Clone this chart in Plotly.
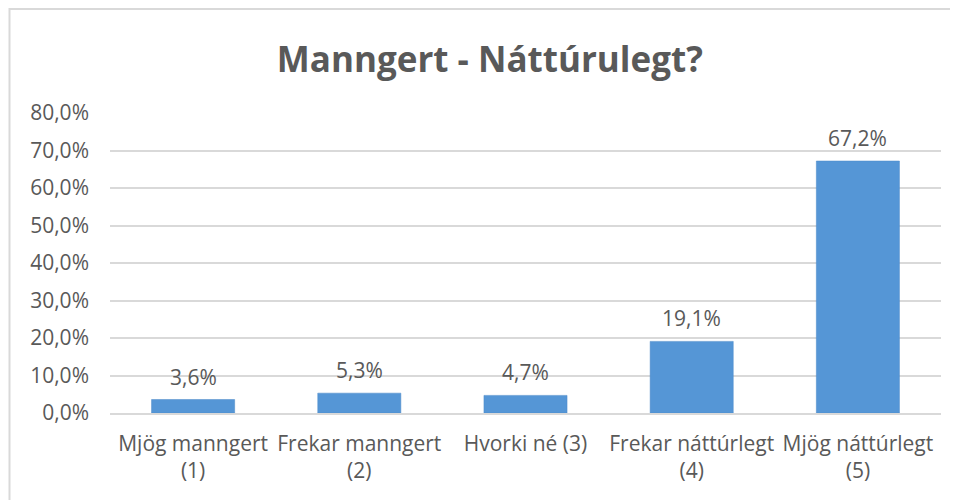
import plotly.graph_objects as go

categories = ["Mjög manngert<br>(1)", "Frekar manngert<br>(2)", "Hvorki né (3)",
              "Frekar náttúrlegt<br>(4)", "Mjög náttúrlegt<br>(5)"]
values = [3.6, 5.3, 4.7, 19.1, 67.2]
tick_values = [0, 10, 20, 30, 40, 50, 60, 70, 80]

FONT = "Open Sans"
GRAY = "#595959"

# Page has an 8px body margin; lay the figure out so the visible result matches.
L, R, T, B = 102, 25, 105, 95
PW = 958 - L - R
PH = 500 - T - B

fig = go.Figure(go.Bar(
    x=categories,
    y=values,
    marker=dict(color="#5596D6", line=dict(color="#4A89C8", width=0.5)),
))

for c, v in zip(categories, values):
    fig.add_annotation(x=c, y=v, text=f"{v:.1f}%".replace(".", ","), showarrow=False,
                       yanchor="bottom", yshift=7,
                       font=dict(family=FONT, size=21, color=GRAY))

fig.update_layout(
    width=958, height=500,
    margin=dict(l=L, r=R, t=T, b=B),
    paper_bgcolor="white", plot_bgcolor="white",
    bargap=0.5,
    showlegend=False,
    title=dict(text="<b>Manngert - Náttúrulegt?</b>", x=0.503, xanchor="center",
               y=0.896, yanchor="middle",
               font=dict(family=FONT, size=35, color=GRAY)),
    font=dict(family=FONT, size=21, color=GRAY),
    yaxis=dict(range=[0, 80], tickvals=tick_values,
               ticktext=[f"{t:.1f}%".replace(".", ",") for t in tick_values],
               showgrid=True, gridcolor="#D9D9D9", gridwidth=1.5, zeroline=False,
               showline=False, ticks="", ticklabelstandoff=20,
               tickfont=dict(family=FONT, size=21, color=GRAY)),
    xaxis=dict(showline=True, linecolor="#D9D9D9", linewidth=1.5, ticks="",
               tickfont=dict(family=FONT, size=21, color=GRAY), ticklabelstandoff=11),
    shapes=[dict(type="rect", xref="paper", yref="paper",
                 x0=(1.5 - L) / PW, x1=(1100 - L) / PW,
                 y0=-1.0, y1=(500 - B - 1) / PH,
                 line=dict(color="#D9D9D9", width=2), fillcolor="rgba(0,0,0,0)", layer="below")],
)

fig.write_html("out.html")
